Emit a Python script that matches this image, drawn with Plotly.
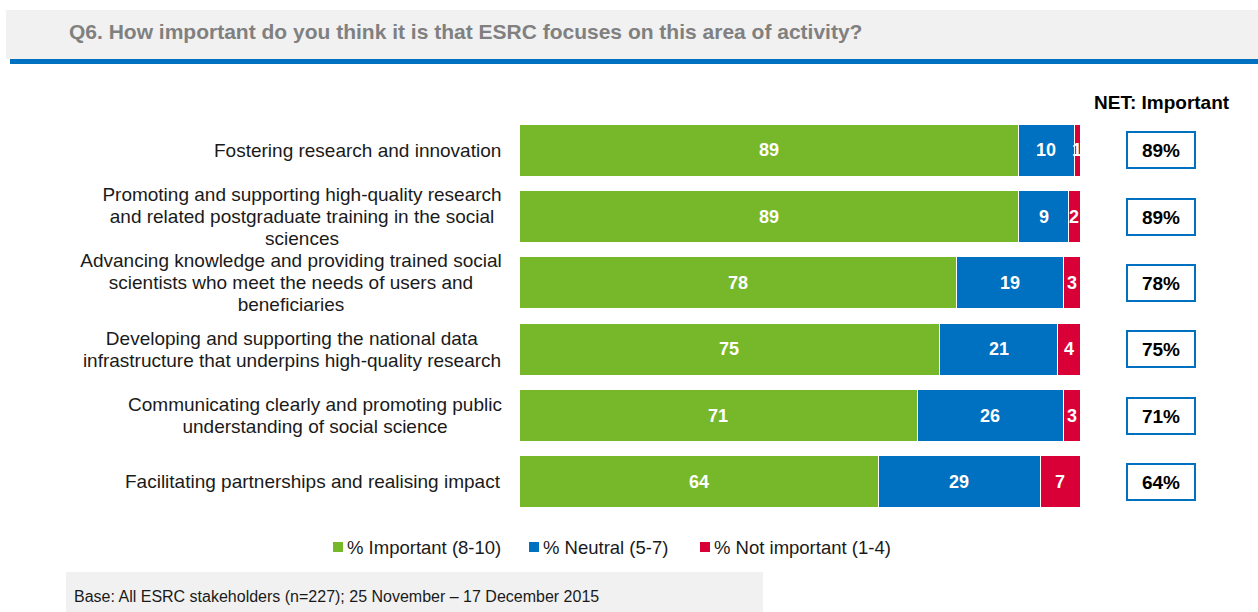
import plotly.graph_objects as go

# Survey data
categories = [
    "Fostering research and innovation",
    "Promoting and supporting high-quality research<br>and related postgraduate training in the social<br>sciences",
    "Advancing knowledge and providing trained social<br>scientists who meet the needs of users and<br>beneficiaries",
    "Developing and supporting the national data<br>infrastructure that underpins high-quality research",
    "Communicating clearly and promoting public<br>understanding of social science",
    "Facilitating partnerships and realising impact",
]
important = [89, 89, 78, 75, 71, 64]
neutral = [10, 9, 19, 21, 26, 29]
not_important = [1, 2, 3, 4, 3, 7]
net_important = [89, 89, 78, 75, 71, 64]

series_names = ["% Important (8-10)", "% Neutral (5-7)", "% Not important (1-4)"]
colors = ["#77B82A", "#0070C0", "#D90037"]

FONT = "Liberation Sans, Arial, sans-serif"
W, H = 1258, 612
ML, MR, MT, MB = 519, 178, 117, 97
PW, PH = W - ML - MR, H - MT - MB
LABEL_BOX = [None, 408, 430, 428, 382, None]   # text block widths for wrapped labels
LINE_H = 22


def px(x):
    return (x - ML) / PW


def py(y):
    return (H - MB - y) / PH


ids = list(range(len(categories)))
fig = go.Figure()
for name, vals, col in zip(series_names, [important, neutral, not_important], colors):
    fig.add_trace(go.Bar(
        y=ids, x=vals, name=name, orientation="h",
        marker=dict(color=col, line=dict(color="white", width=1)),
        showlegend=False, hoverinfo="x+name",
    ))

annotations = []
shapes = []


def label(x, y, text, size, color="#1a1a1a", xanchor="center", xref="paper", yref="paper", **kw):
    annotations.append(dict(
        x=x, y=y, xref=xref, yref=yref, text=text, showarrow=False,
        xanchor=xanchor, yanchor="middle",
        font=dict(family=FONT, size=size, color=color), **kw,
    ))


# segment value labels
for i in ids:
    start = 0
    for vals in [important, neutral, not_important]:
        v = vals[i]
        label(start + v / 2, i, f"<b>{v}</b>", 18, color="white", xref="x", yref="y")
        start += v

# category labels, one line at a time, centred within a right-aligned block
for i, c in zip(ids, categories):
    lines = c.split("<br>")
    mid = (len(lines) - 1) / 2
    for k, line in enumerate(lines):
        if LABEL_BOX[i]:
            label(px(508), i, line, 19, xanchor="right", yref="y",
                  yshift=(mid - k) * LINE_H, width=LABEL_BOX[i], align="center")
        else:
            label(px(503), i, line, 19, xanchor="right", yref="y",
                  yshift=(mid - k) * LINE_H)

# NET column
label(px(1162), py(102), "<b>NET: Important</b>", 19, color="black")
for i, n in zip(ids, net_important):
    label(px(1161), i, f"<b>{n}%</b>", 19, color="black", yref="y",
          width=64, height=32, bordercolor="#0070C0", borderwidth=2, bgcolor="white")

# header band
shapes.append(dict(type="rect", xref="paper", yref="paper", x0=px(6), x1=px(1258),
                   y0=py(59), y1=py(10), fillcolor="#F1F1F1", line=dict(width=0), layer="below"))
shapes.append(dict(type="rect", xref="paper", yref="paper", x0=px(10), x1=px(1258),
                   y0=py(64), y1=py(59), fillcolor="#0070C0", line=dict(width=0)))
label(px(67), py(31),
      "<b>Q6. How important do you think it is that ESRC focuses on this area of activity?</b>",
      21, color="#808080", xanchor="left")

# legend
legend_pos = [333, 529, 700]
for xl, name, col in zip(legend_pos, series_names, colors):
    shapes.append(dict(type="rect", xref="paper", yref="paper", x0=px(xl), x1=px(xl + 10),
                       y0=py(552), y1=py(542), fillcolor=col, line=dict(width=0)))
    label(px(xl + 12), py(547), name, 18.5, xanchor="left")

# footer
shapes.append(dict(type="rect", xref="paper", yref="paper", x0=px(66), x1=px(763),
                   y0=py(612), y1=py(572), fillcolor="#F1F1F1", line=dict(width=0), layer="below"))
label(px(72), py(596), "Base: All ESRC stakeholders (n=227); 25 November \u2013 17 December 2015",
      16, xanchor="left")

fig.update_layout(
    width=W, height=H, barmode="stack", bargap=0.22,
    margin=dict(l=ML, r=MR, t=MT, b=MB),
    paper_bgcolor="white", plot_bgcolor="white",
    xaxis=dict(range=[0, 100], visible=False, fixedrange=True),
    yaxis=dict(range=[len(categories) - 0.5, -0.5], visible=False, fixedrange=True),
    annotations=annotations, shapes=shapes,
)

fig.write_html("out.html")
